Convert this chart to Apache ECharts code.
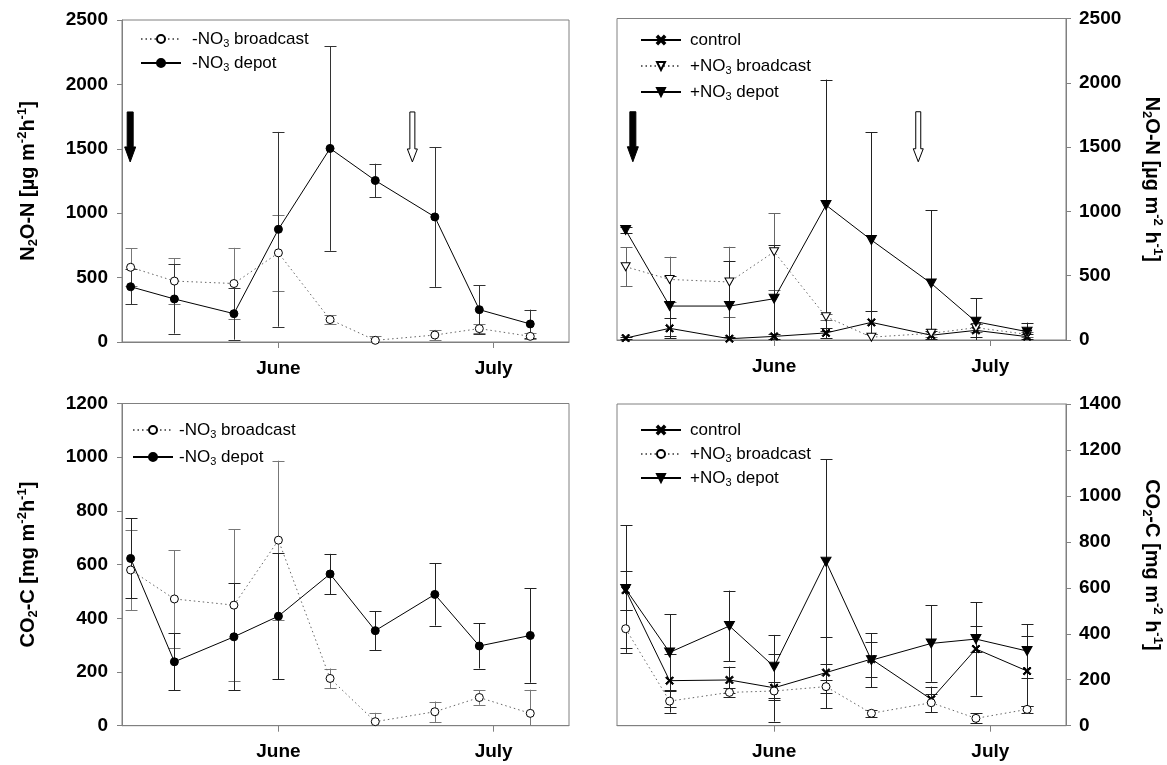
<!DOCTYPE html>
<html><head><meta charset="utf-8">
<script src="https://cdn.jsdelivr.net/npm/echarts@6/dist/echarts.min.js"></script>
<style>html,body{margin:0;padding:0;background:#fff}#c{width:1167px;height:765px}</style>
</head><body><div id="c"></div>
<script>
// ---- sampling dates (days relative to 1 June) ----
const sampleDays = [-20.6, -14.5, -6.2, 0, 7.2, 13.5, 21.8, 28.0, 35.1];
const monthTickDays = [0, 30];
const monthLabels = ['June', 'July'];

// ---- N2O-N, -NO3 treatments (top left) ----
const n2oBroadcastMinus = [580, 473, 454, 692, 174, 13, 54, 104, 44];
const n2oBroadcastMinusErr = [148, 177, 277, 294, 35, 30, 40, 32, 22];
const n2oDepotMinus = [429, 334, 220, 875, 1503, 1254, 971, 251, 140];
const n2oDepotMinusErr = [136, 269, 202, 756, 795, 130, 543, 189, 111];

// ---- N2O-N, control / +NO3 treatments (top right) ----
const n2oControl = [15, 91, 10, 28, 55, 137, 37, 75, 26];
const n2oControlErr = [10, 77, 10, 20, 42, 91, 30, 52, 20];
const n2oBroadcastPlus = [570, 471, 451, 686, 181, 22, 52, 96, 44];
const n2oBroadcastPlusErr = [150, 177, 274, 298, 25, 22, 30, 30, 20];
const n2oDepotPlus = [855, 264, 264, 321, 1049, 777, 440, 142, 65];
const n2oDepotPlusErr = [25, 233, 352, 414, 976, 837, 570, 182, 70];

// ---- CO2-C, -NO3 treatments (bottom left) ----
const co2BroadcastMinus = [580, 472, 449, 691, 176, 15, 52, 105, 46];
const co2BroadcastMinusErr = [150, 181, 282, 296, 37, 33, 38, 27, 88];
const co2DepotMinus = [623, 238, 331, 408, 565, 354, 489, 297, 336];
const co2DepotMinusErr = [149, 106, 199, 234, 75, 72, 116, 84, 176];

// ---- CO2-C, control / +NO3 treatments (bottom right) ----
const co2Control = [590, 196, 199, 165, 231, 290, 115, 334, 238];
const co2ControlErr = [85, 115, 58, 147, 154, 76, 55, 203, 153];
const co2BroadcastPlus = [422, 107, 145, 151, 170, 54, 100, 32, 71];
const co2BroadcastPlusErr = [82, 50, 20, 40, 29, 15, 40, 22, 15];
const co2DepotPlus = [595, 319, 434, 257, 714, 285, 358, 377, 325];
const co2DepotPlusErr = [278, 167, 154, 138, 445, 117, 167, 57, 117];

// ---- fertilisation arrows: [day, top value, bottom value, filled] ----
const arrowsLeft = [[-20.66, 1786, 1398, 1], [18.67, 1786, 1398, 0]];
const arrowsRight = [[-19.6, 1775, 1386, 1], [20.0, 1775, 1386, 0]];

// ---- axes ----
const n2oAxis = {min: 0, max: 2500, interval: 500};
const co2LeftAxis = {min: 0, max: 1200, interval: 200};
const co2RightAxis = {min: 0, max: 1400, interval: 200};
const dayRange = {min: -21.8, max: 40.5};

const FONT = 'Liberation Sans, Arial, sans-serif';
const GRAY = '#808080';
const X_PATH = 'path://M0,1.4 L1.4,0 L5,3.6 L8.6,0 L10,1.4 L6.4,5 L10,8.6 L8.6,10 L5,6.4 L1.4,10 L0,8.6 L3.6,5 Z';
const TRI_PATH = 'path://M0,0 L10,0 L5,9 Z';

const legendText = {
  n2oL_b: '-NO{s|3} broadcast', n2oL_d: '-NO{s|3} depot',
  n2oR_c: 'control', n2oR_b: '+NO{s|3} broadcast', n2oR_d: '+NO{s|3} depot',
  co2L_b: '-NO{s|3} broadcast', co2L_d: '-NO{s|3} depot',
  co2R_c: 'control', co2R_b: '+NO{s|3} broadcast', co2R_d: '+NO{s|3} depot'
};

function zip(vals, errs) { return vals.map((v, i) => [sampleDays[i], v, errs ? errs[i] : 0]); }

function errSeries(idx, vals, errs, color) {
  return {
    type: 'custom', xAxisIndex: idx, yAxisIndex: idx, z: 1, silent: true, clip: true,
    data: zip(vals, errs), encode: {x: 0, y: 1},
    renderItem: function (params, api) {
      const x = api.value(0), y = api.value(1), e = api.value(2);
      const lo = Math.max(0, y - e), hi = y + e;
      const pHi = api.coord([x, hi]), pLo = api.coord([x, lo]);
      const cx = Math.round(pHi[0]) + 0.5;
      const st = {stroke: color, lineWidth: 1};
      const w = 6;
      const ch = [
        {type: 'line', shape: {x1: cx, y1: pHi[1], x2: cx, y2: pLo[1]}, style: st},
        {type: 'line', shape: {x1: cx - w, y1: Math.round(pHi[1]) + 0.5, x2: cx + w, y2: Math.round(pHi[1]) + 0.5}, style: st}
      ];
      if (y - e > 0) ch.push({type: 'line', shape: {x1: cx - w, y1: Math.round(pLo[1]) + 0.5, x2: cx + w, y2: Math.round(pLo[1]) + 0.5}, style: st});
      return {type: 'group', children: ch};
    }
  };
}

function arrowSeries(idx, arr) {
  return {
    type: 'custom', xAxisIndex: idx, yAxisIndex: idx, z: 3, silent: true,
    data: arr, encode: {x: 0, y: [1, 2]},
    renderItem: function (params, api) {
      const x = api.value(0), top = api.value(1), bot = api.value(2), filled = api.value(3);
      const p1 = api.coord([x, top]), p2 = api.coord([x, bot]);
      const cx = p1[0];
      const sw = filled ? 3 : 2.5, hw = filled ? 5.5 : 5, hl = filled ? 15 : 13;
      const pts = [[cx - sw, p1[1]], [cx + sw, p1[1]], [cx + sw, p2[1] - hl], [cx + hw, p2[1] - hl],
        [cx, p2[1]], [cx - hw, p2[1] - hl], [cx - sw, p2[1] - hl]];
      return {type: 'polygon', shape: {points: pts},
        style: {fill: filled ? '#000' : '#fff', stroke: '#000', lineWidth: 1}};
    }
  };
}

function lineSeries(idx, name, vals, kind) {
  const s = {
    type: 'line', name: name, xAxisIndex: idx, yAxisIndex: idx, z: 2,
    data: zip(vals).map(d => [d[0], d[1]]), symbolSize: 8, showAllSymbol: true,
    lineStyle: {color: '#000', width: 1, type: 'solid'},
    itemStyle: {color: '#000', borderColor: '#000', borderWidth: 1}
  };
  if (kind === 'openCircle') {
    s.symbol = 'circle';
    s.itemStyle = {color: '#fff', borderColor: '#000', borderWidth: 1};
    s.lineStyle = {color: '#666', width: 1, type: [1.5, 3]};
  } else if (kind === 'filledCircle') {
    s.symbol = 'circle';
  } else if (kind === 'cross') {
    s.symbol = X_PATH; s.symbolSize = 8;
  } else if (kind === 'openTri') {
    s.symbol = TRI_PATH; s.symbolSize = [9, 8];
    s.itemStyle = {color: '#fff', borderColor: '#000', borderWidth: 1};
    s.lineStyle = {color: '#666', width: 1, type: [1.5, 3]};
  } else if (kind === 'filledTri') {
    s.symbol = TRI_PATH; s.symbolSize = [10, 9];
  }
  return s;
}

const grids = [
  {left: 122, top: 20, width: 447, height: 322},
  {left: 617, top: 18.5, width: 449, height: 321.5},
  {left: 122, top: 403.5, width: 447, height: 322.2},
  {left: 617, top: 404, width: 449, height: 321.7}
].map(g => Object.assign(g, {show: true, borderColor: GRAY, borderWidth: 1, containLabel: false}));

const xAxes = [0, 1, 2, 3].map(i => ({
  type: 'value', gridIndex: i, min: dayRange.min, max: dayRange.max,
  axisLine: {show: true, onZero: false, lineStyle: {color: GRAY, width: 1}},
  axisTick: {show: true, inside: false, length: 6, customValues: monthTickDays, lineStyle: {color: GRAY}},
  axisLabel: {show: true, customValues: monthTickDays, margin: 17,
    formatter: v => monthLabels[monthTickDays.indexOf(v)] || '',
    fontFamily: FONT, fontWeight: 'bold', fontSize: 19, color: '#000'},
  splitLine: {show: false}
}));

const nameRich = {
  sub: {fontSize: 13, fontWeight: 'bold', fontFamily: FONT, verticalAlign: 'bottom', lineHeight: 14, color: '#000'},
  sup: {fontSize: 13, fontWeight: 'bold', fontFamily: FONT, verticalAlign: 'top', lineHeight: 14, color: '#000'}
};

function yAxis(i, ax, right, name) {
  return {
    type: 'value', gridIndex: i, min: ax.min, max: ax.max, interval: ax.interval,
    position: right ? 'right' : 'left',
    axisLine: {show: true, onZero: false, lineStyle: {color: GRAY, width: 1}},
    axisTick: {show: true, inside: false, length: 5, lineStyle: {color: GRAY}},
    axisLabel: {margin: right ? 13 : 14, fontFamily: FONT, fontWeight: 'bold', fontSize: 19, color: '#000',
      formatter: v => String(v)},
    splitLine: {show: false},
    name: name, nameLocation: 'middle', nameRotate: right ? -90 : 90, nameGap: right ? 74 : 82,
    nameTextStyle: {fontFamily: FONT, fontWeight: 'bold', fontSize: 20, color: '#000', lineHeight: 24, rich: nameRich}
  };
}

const yAxes = [
  yAxis(0, n2oAxis, false, 'N{sub|2}O-N [µg m{sup|-2}h{sup|-1}]'),
  yAxis(1, n2oAxis, true, 'N{sub|2}O-N [µg m{sup|-2} h{sup|-1}]'),
  yAxis(2, co2LeftAxis, false, 'CO{sub|2}-C [mg m{sup|-2}h{sup|-1}]'),
  yAxis(3, co2RightAxis, true, 'CO{sub|2}-C [mg m{sup|-2} h{sup|-1}]')
];

function legend(names, left, top, gap, pad) {
  return {
    data: names, left: left, top: top, orient: 'vertical', itemWidth: 40, itemHeight: 10, itemGap: gap,
    selectedMode: false, padding: 0,
    formatter: n => legendText[n],
    textStyle: {fontFamily: FONT, fontSize: 17, color: '#000', lineHeight: 20, padding: [0, 0, 0, pad],
      rich: {s: {fontSize: 11, fontFamily: FONT, verticalAlign: 'bottom', lineHeight: 10, color: '#000'}}}
  };
}

const series = [
  errSeries(0, n2oBroadcastMinus, n2oBroadcastMinusErr, '#777'),
  errSeries(0, n2oDepotMinus, n2oDepotMinusErr, '#333'),
  lineSeries(0, 'n2oL_b', n2oBroadcastMinus, 'openCircle'),
  lineSeries(0, 'n2oL_d', n2oDepotMinus, 'filledCircle'),
  arrowSeries(0, arrowsLeft),

  errSeries(1, n2oControl, n2oControlErr, '#222'),
  errSeries(1, n2oBroadcastPlus, n2oBroadcastPlusErr, '#666'),
  errSeries(1, n2oDepotPlus, n2oDepotPlusErr, '#222'),
  lineSeries(1, 'n2oR_c', n2oControl, 'cross'),
  lineSeries(1, 'n2oR_b', n2oBroadcastPlus, 'openTri'),
  lineSeries(1, 'n2oR_d', n2oDepotPlus, 'filledTri'),
  arrowSeries(1, arrowsRight),

  errSeries(2, co2BroadcastMinus, co2BroadcastMinusErr, '#777'),
  errSeries(2, co2DepotMinus, co2DepotMinusErr, '#222'),
  lineSeries(2, 'co2L_b', co2BroadcastMinus, 'openCircle'),
  lineSeries(2, 'co2L_d', co2DepotMinus, 'filledCircle'),

  errSeries(3, co2Control, co2ControlErr, '#222'),
  errSeries(3, co2BroadcastPlus, co2BroadcastPlusErr, '#222'),
  errSeries(3, co2DepotPlus, co2DepotPlusErr, '#222'),
  lineSeries(3, 'co2R_c', co2Control, 'cross'),
  lineSeries(3, 'co2R_b', co2BroadcastPlus, 'openCircle'),
  lineSeries(3, 'co2R_d', co2DepotPlus, 'filledTri')
];
series.forEach(s => { s.animation = false; });

const chart = echarts.init(document.getElementById('c'), null, {renderer: 'canvas'});
chart.setOption({
  backgroundColor: '#fff',
  animation: false,
  grid: grids, xAxis: xAxes, yAxis: yAxes,
  legend: [
    legend(['n2oL_b', 'n2oL_d'], 140, 29, 4, 6),
    legend(['n2oR_c', 'n2oR_b', 'n2oR_d'], 640, 30, 6, 4),
    legend(['co2L_b', 'co2L_d'], 132, 420, 7, 1),
    legend(['co2R_c', 'co2R_b', 'co2R_d'], 640, 420, 4, 4)
  ],
  series: series
});
</script></body></html>
